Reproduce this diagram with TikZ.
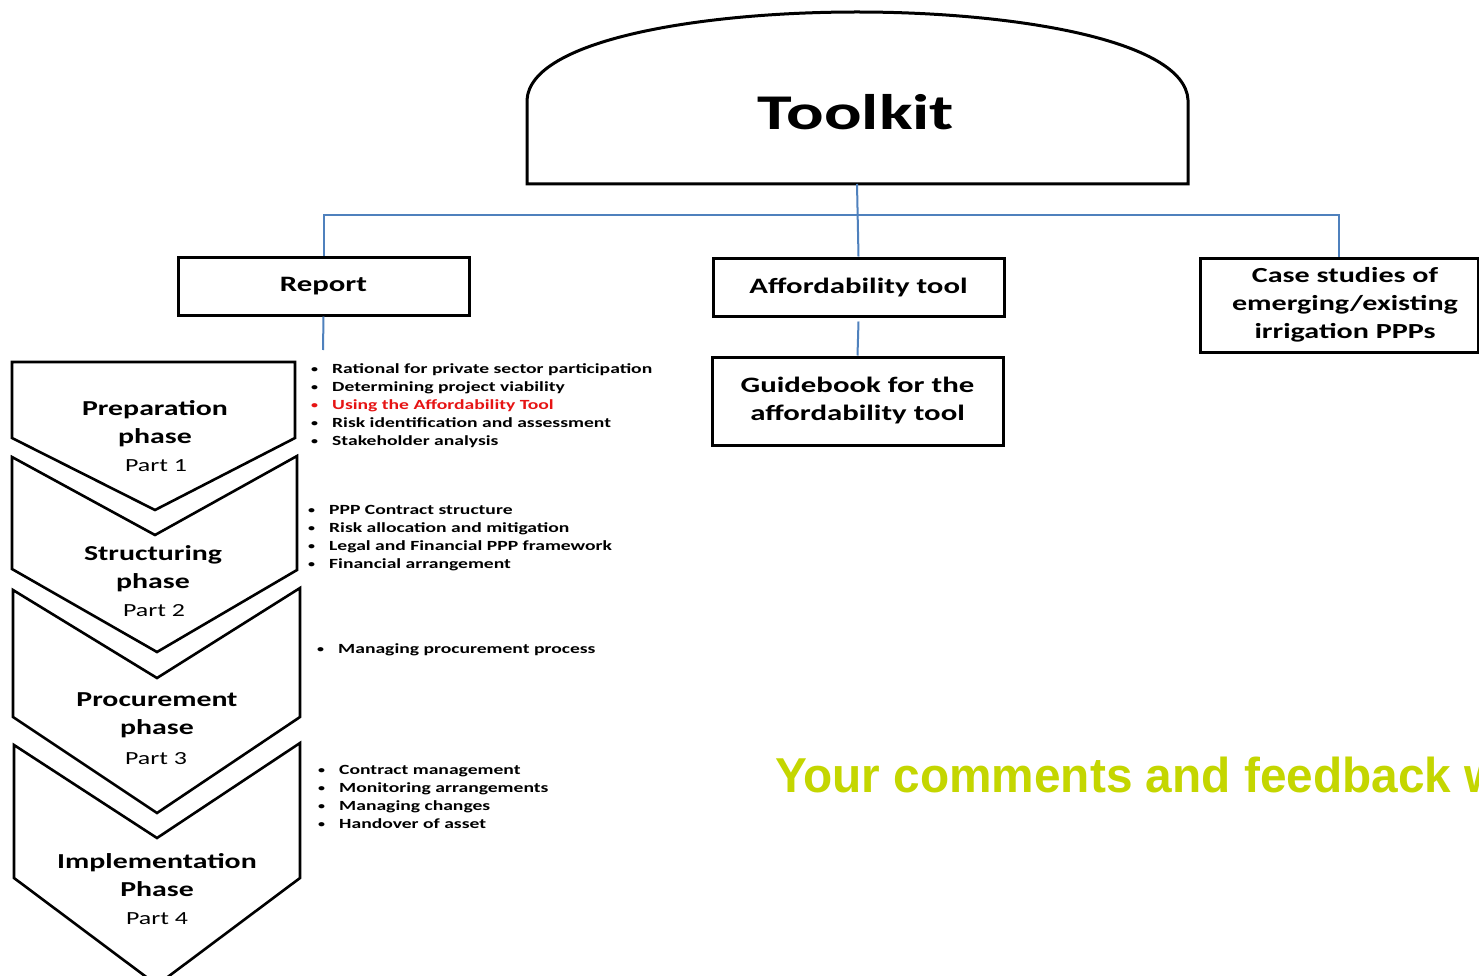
\documentclass[tikz,border=0pt]{standalone}
\usepackage{fontspec}
\setmainfont{Carlito}[FakeStretch=1.4]
\newfontfamily\feedfont{Liberation Sans}
\definecolor{wireblue}{RGB}{79,129,189}
\definecolor{feedgreen}{RGB}{196,214,0}
\definecolor{hired}{RGB}{230,20,20}
\newcommand{\bul}{\llap{\raisebox{0.5pt}{\fontsize{10}{10}\selectfont\textbullet}\hspace{14pt}}}

\begin{document}
\begin{tikzpicture}[x=1pt,y=-1pt,
  box/.style={draw, line width=3pt, minimum width=291pt, minimum height=58pt,
    inner sep=0pt, align=center, font=\fontsize{22}{28}\selectfont\bfseries},
  wire/.style={draw=wireblue, line width=2pt},
  chev/.style={draw, line width=2.6pt, line join=miter},
  phasetitle/.style={font=\fontsize{21.3}{28}\selectfont\bfseries, align=center, inner sep=0pt},
  partlabel/.style={font=\fontsize{18.5}{22}\selectfont, inner sep=0pt},
  item/.style={anchor=base west, inner sep=0pt, font=\fontsize{14}{18}\selectfont\bfseries}]

\clip (0,0) rectangle (1479,976);
\fill[white] (0,0) rectangle (1479,976);

% top dome
\draw[line width=3pt, line join=miter]
  (527,184) -- (527,100) .. controls (530,40) and (700,12) .. (857,12)
  .. controls (1014,12) and (1185,40) .. (1188,100) -- (1188,184) -- cycle;
\node[font=\fontsize{50}{56}\selectfont\bfseries] (toolkit) at (856,112) {Toolkit};
\coordinate (tkbase) at (857,184);

% second level boxes
\node[box] (report) at (323.5,286) {Report};
\node[box] (afford) at (858.5,287) {Affordability tool};
\node[box, minimum height=88pt] (guide) at (857.5,401) {Guidebook for the\\affordability tool};
\node[box, minimum width=278pt, minimum height=94pt] (cases) at (1339,305) {};
\node[font=\fontsize{21.5}{28}\selectfont\bfseries, align=center] (casetext) at (1345,305)
  {Case studies of\\emerging/existing\\irrigation PPPs};

% connectors
\coordinate (bus) at (857,215);
\draw[wire] (tkbase) -- (afford.north);
\draw[wire] (report.north) |- (bus) -| (cases.north);
\coordinate (reporttail) at (323,350);
\draw[wire] (report.south) -- (reporttail);
\draw[wire] (afford.south) ++(0,4) coordinate (affbelow);
\draw[wire] (affbelow) -- (guide.north);

% phase chevrons
\draw[chev] (12,362) -- (295,362) -- (295,438) -- (155,510) -- (12,438) -- cycle;
\draw[chev] (12,457) -- (155,535) -- (297,456) -- (297,570) -- (157,652) -- (12,569) -- cycle;
\draw[chev] (13,590) -- (157,678) -- (300,588) -- (300,717) -- (157,813) -- (13,717) -- cycle;
\draw[chev] (14,745) -- (157,838) -- (300,743) -- (300,878) -- (157,985) -- (14,878) -- cycle;

\node[phasetitle] (prep) at (155,424) {Preparation\\phase};
\node[partlabel] (part1) at (156,466) {Part 1};
\node[phasetitle] (struc) at (153,568.5) {Structuring\\phase};
\node[partlabel] (part2) at (154,611) {Part 2};
\node[phasetitle] (proc) at (157,715.5) {Procurement\\phase};
\node[partlabel] (part3) at (156,759) {Part 3};
\node[phasetitle] (impl) at (157,875.5) {Implementation\\Phase};
\node[partlabel] (part4) at (157,919) {Part 4};

% bullet lists
\node[item] (a1) at (332,373) {\bul Rational for private sector participation};
\node[item] (a2) at (332,391) {\bul Determining project viability};
\node[item, text=hired] (a3) at (332,409) {\bul Using the Affordability Tool};
\node[item] (a4) at (332,427) {\bul Risk identification and assessment};
\node[item] (a5) at (332,445) {\bul Stakeholder analysis};

\node[item] (b1) at (329,514) {\bul PPP Contract structure};
\node[item] (b2) at (329,532) {\bul Risk allocation and mitigation};
\node[item] (b3) at (329,550) {\bul Legal and Financial PPP framework};
\node[item] (b4) at (329,568) {\bul Financial arrangement};

\node[item] (c1) at (338,653) {\bul Managing procurement process};

\node[item] (d1) at (339,774) {\bul Contract management};
\node[item] (d2) at (339,792) {\bul Monitoring arrangements};
\node[item] (d3) at (339,810) {\bul Managing changes};
\node[item] (d4) at (339,828) {\bul Handover of asset};

% closing line
\node[anchor=base west, inner sep=0pt, text=feedgreen, xscale=0.975,
  font=\feedfont\fontsize{49}{56}\selectfont\bfseries] (feedback) at (775,792)
  {Your comments and feedback w};
\end{tikzpicture}
\end{document}
